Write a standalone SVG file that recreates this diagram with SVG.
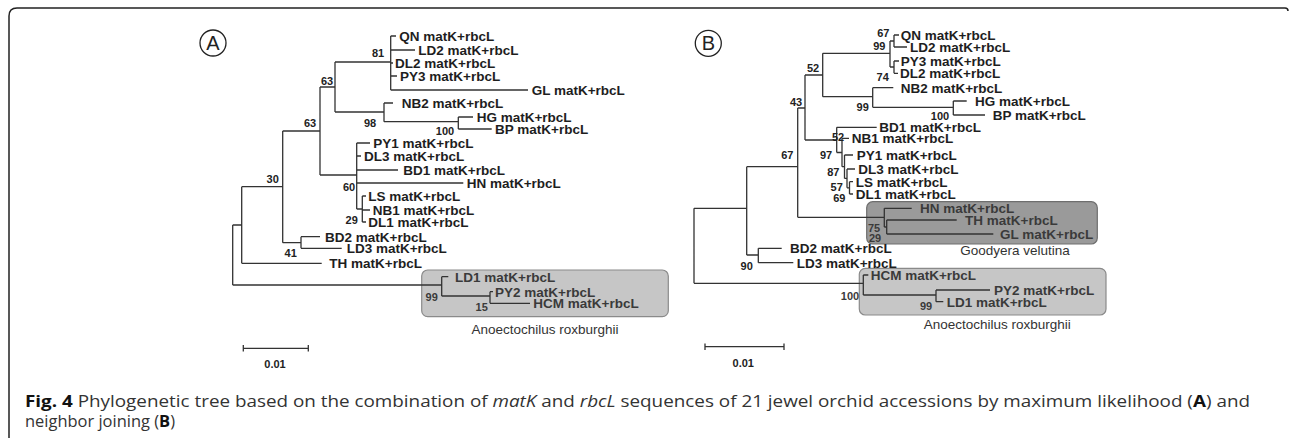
<svg xmlns="http://www.w3.org/2000/svg" width="1290" height="438" viewBox="0 0 1290 438">
<style>
.br{stroke:#333;stroke-width:1.3;fill:none}
.lb{font-family:"Liberation Sans",Arial,sans-serif;font-weight:bold;font-size:13.5px;fill:#1e1e1e}
.ib{fill:#3a3a3a}
.bs{font-family:"Liberation Sans",Arial,sans-serif;font-weight:bold;font-size:11px;fill:#222;text-anchor:middle}
.ibs{fill:#3a3a3a}
.sp{font-family:"Liberation Sans",Arial,sans-serif;font-size:13.5px;fill:#333;text-anchor:middle}
.cap{font-family:"Open Sans","Noto Sans",sans-serif;font-size:16.5px;fill:#333}
.boxL{fill:#c6c6c6;stroke:#8a8a8a;stroke-width:1.2}
.boxD{fill:#9a9a9a;stroke:#6e6e6e;stroke-width:1.2}
.circ{fill:none;stroke:#222;stroke-width:1.3}
.let{font-family:"Liberation Sans",Arial,sans-serif;font-size:20px;fill:#222;text-anchor:middle}
</style>
<path d="M9,438 V16 Q9,8 17,8 H1285 Q1288,8 1288,11" fill="none" stroke="#222" stroke-width="1.5"/>

<g id="panelA">
<circle class="circ" cx="213" cy="43" r="13"/>
<text class="let" x="213" y="50">A</text>
</g>
<g id="panelB">
<circle class="circ" cx="708.3" cy="43.3" r="13"/>
<text class="let" x="708.3" y="50.3">B</text>
</g>

<g id="groupboxes">
<rect id="boxA-anoectochilus" class="boxL" x="421.7" y="270" width="246.6" height="46.7" rx="6"/>
<rect id="boxB-goodyera" class="boxD" x="866.7" y="201.7" width="230.6" height="42.3" rx="6"/>
<rect id="boxB-anoectochilus" class="boxL" x="859.3" y="268.3" width="246.7" height="46.7" rx="6"/>
</g>

<g id="connectors">
<path class="br" d="M232.7,225 V285 M232.7,225 H241.7 M232.7,285 H441.7
M241.7,186.7 V263.3 M241.7,186.7 H282.7 M241.7,263.3 H321.7
M282.7,131 V242.7 M282.7,131 H320 M282.7,242.7 H301
M301,236.7 V248.3 M301,236.7 H320 M301,248.3 H341.7
M320,87 V175 M320,87 H335 M320,175 H356.7
M335,62 V112 M335,62 H390.7 M335,112 H384
M390.7,36 V90 M390.7,36 H396 M390.7,50 H415 M390.7,63 H393 M390.7,76 H397 M390.7,90 H528
M384,103 V121.7 M384,103 H393 M384,121.7 H458.3
M458.3,117 V129 M458.3,117 H473 M458.3,129 H491.7
M356.7,143 V209 M356.7,143 H370 M356.7,156 H361 M356.7,170 H398 M356.7,183 H463.3 M356.7,209 H362.3
M362.3,196 V222 M362.3,196 H366 M362.3,210 H370 M362.3,222 H366
M441.7,276.7 V296 M441.7,276.7 H448.3 M441.7,296 H490 M490,291.7 V303.3 M490,291.7 H493 M490,303.3 H530"/>
<path class="br" d="M694,208.3 V283.3 M694,208.3 H746.7 M694,283.3 H863.3
M746.7,166.7 V255 M746.7,166.7 H797.7 M746.7,255 H758.3
M758.3,248.3 V262.7 M758.3,248.3 H781.7 M758.3,262.7 H793.3
M797.7,108 V217.3 M797.7,108 H805 M797.7,217.3 H884.3
M805,75 V140 M805,75 H822.7 M805,140 H836.7
M822.7,53.3 V96.7 M822.7,53.3 H890 M822.7,96.7 H872.7
M890,41 V67 M890,41 H894 M890,67 H894
M894,35 V47 M894,35 H899 M894,47 H907
M894,61 V73.3 M894,61 H899 M894,73.3 H898
M872.7,87.7 V107.3 M872.7,87.7 H893.3 M872.7,107.3 H953.3
M953.3,101 V115 M953.3,101 H966.7 M953.3,115 H985
M836.7,127.3 V152.5 M836.7,127.3 H876.7 M836.7,152.5 H842
M842,138.3 V166.7 M842,138.3 H849 M842,166.7 H844.5
M844.5,155 V178.4 M844.5,155 H853 M844.5,178.4 H847
M847,169 V187.8 M847,169 H855 M847,187.8 H849.5
M849.5,181.7 V194 M849.5,181.7 H853 M849.5,194 H853
M884.3,208.3 V227 M884.3,208.3 H911.7 M884.3,227 H886.7
M886.7,220 V234 M886.7,220 H956.7 M886.7,234 H993.3
M863.3,275 V295 M863.3,275 H868.3 M863.3,295 H936
M936,290 V301.7 M936,290 H990 M936,301.7 H943.3"/>
<path class="br" d="M243.3,348.3 H308.3 M243.3,345 V351.6 M308.3,345 V351.6 M705,346.7 H784 M705,343.4 V350 M784,343.4 V350"/>
</g>

<g id="treeA-leaves">
<g id="A-QN"><text class="lb" x="399.3" y="40.8">QN matK+rbcL</text></g>
<g id="A-LD2"><text class="lb" x="418.3" y="54.8">LD2 matK+rbcL</text></g>
<g id="A-DL2"><text class="lb" x="395" y="67.8">DL2 matK+rbcL</text></g>
<g id="A-PY3"><text class="lb" x="400" y="80.8">PY3 matK+rbcL</text></g>
<g id="A-GL"><text class="lb" x="531.7" y="94.8">GL matK+rbcL</text></g>
<g id="A-NB2"><text class="lb" x="401.7" y="107.8">NB2 matK+rbcL</text></g>
<g id="A-HG"><text class="lb" x="476.7" y="121.8">HG matK+rbcL</text></g>
<g id="A-BP"><text class="lb" x="495" y="133.8">BP matK+rbcL</text></g>
<g id="A-PY1"><text class="lb" x="373.3" y="147.8">PY1 matK+rbcL</text></g>
<g id="A-DL3"><text class="lb" x="364" y="160.8">DL3 matK+rbcL</text></g>
<g id="A-BD1"><text class="lb" x="403.3" y="174.8">BD1 matK+rbcL</text></g>
<g id="A-HN"><text class="lb" x="466.7" y="187.8">HN matK+rbcL</text></g>
<g id="A-LS"><text class="lb" x="368.3" y="200.8">LS matK+rbcL</text></g>
<g id="A-NB1"><text class="lb" x="372.7" y="214.8">NB1 matK+rbcL</text></g>
<g id="A-DL1"><text class="lb" x="368.3" y="226.8">DL1 matK+rbcL</text></g>
<g id="A-BD2"><text class="lb" x="325" y="241.5">BD2 matK+rbcL</text></g>
<g id="A-LD3"><text class="lb" x="346.7" y="253.1">LD3 matK+rbcL</text></g>
<g id="A-TH"><text class="lb" x="329.3" y="268.1">TH matK+rbcL</text></g>
<g id="A-LD1"><text class="lb ib" x="455" y="281.5">LD1 matK+rbcL</text></g>
<g id="A-PY2"><text class="lb ib" x="495" y="296.5">PY2 matK+rbcL</text></g>
<g id="A-HCM"><text class="lb ib" x="533.3" y="308.1">HCM matK+rbcL</text></g>
</g>
<g id="treeA-support">
<text class="bs" x="378" y="57">81</text>
<text class="bs" x="327" y="85">63</text>
<text class="bs" x="310" y="127">63</text>
<text class="bs" x="370" y="126.7">98</text>
<text class="bs" x="445" y="135">100</text>
<text class="bs" x="349" y="191">60</text>
<text class="bs" x="351.7" y="224">29</text>
<text class="bs" x="272.7" y="183.3">30</text>
<text class="bs" x="290.7" y="256.7">41</text>
<text class="bs ibs" x="431.7" y="300.7">99</text>
<text class="bs ibs" x="481.7" y="311.3">15</text>
</g>
<g id="A-clade-name"><text class="sp" x="545" y="333.8">Anoectochilus roxburghii</text></g>
<g id="A-scale"><text class="bs" x="275" y="368">0.01</text></g>

<g id="treeB-leaves">
<g id="B-QN"><text class="lb" x="900.7" y="39.8">QN matK+rbcL</text></g>
<g id="B-LD2"><text class="lb" x="910" y="51.5">LD2 matK+rbcL</text></g>
<g id="B-PY3"><text class="lb" x="900.7" y="65.5">PY3 matK+rbcL</text></g>
<g id="B-DL2"><text class="lb" x="900" y="78.1">DL2 matK+rbcL</text></g>
<g id="B-NB2"><text class="lb" x="900.7" y="92.5">NB2 matK+rbcL</text></g>
<g id="B-HG"><text class="lb" x="975" y="105.8">HG matK+rbcL</text></g>
<g id="B-BP"><text class="lb" x="992.7" y="119.8">BP matK+rbcL</text></g>
<g id="B-BD1"><text class="lb" x="879.3" y="132.1">BD1 matK+rbcL</text></g>
<g id="B-NB1"><text class="lb" x="851.7" y="143.1">NB1 matK+rbcL</text></g>
<g id="B-PY1"><text class="lb" x="856.7" y="159.8">PY1 matK+rbcL</text></g>
<g id="B-DL3"><text class="lb" x="858.3" y="173.8">DL3 matK+rbcL</text></g>
<g id="B-LS"><text class="lb" x="855.7" y="186.5">LS matK+rbcL</text></g>
<g id="B-DL1"><text class="lb" x="855.7" y="198.8">DL1 matK+rbcL</text></g>
<g id="B-HN"><text class="lb ib" x="920" y="213.1">HN matK+rbcL</text></g>
<g id="B-TH"><text class="lb ib" x="965" y="224.8">TH matK+rbcL</text></g>
<g id="B-GL"><text class="lb ib" x="1000" y="238.8">GL matK+rbcL</text></g>
<g id="B-BD2"><text class="lb" x="790" y="253.1">BD2 matK+rbcL</text></g>
<g id="B-LD3"><text class="lb" x="796.7" y="267.5">LD3 matK+rbcL</text></g>
<g id="B-HCM"><text class="lb ib" x="870.7" y="279.8">HCM matK+rbcL</text></g>
<g id="B-PY2"><text class="lb ib" x="994" y="294.8">PY2 matK+rbcL</text></g>
<g id="B-LD1"><text class="lb ib" x="946.7" y="306.5">LD1 matK+rbcL</text></g>
</g>
<g id="treeB-support">
<text class="bs" x="883.3" y="36.7">67</text>
<text class="bs" x="879.3" y="50">99</text>
<text class="bs" x="882.7" y="80.7">74</text>
<text class="bs" x="813" y="71.7">52</text>
<text class="bs" x="862.7" y="111.3">99</text>
<text class="bs" x="940" y="120">100</text>
<text class="bs" x="796" y="105.5">43</text>
<text class="bs" x="838" y="141.3">52</text>
<text class="bs" x="826" y="159">97</text>
<text class="bs" x="833.3" y="176.3">87</text>
<text class="bs" x="836.7" y="191.3">57</text>
<text class="bs" x="839.3" y="202.3">69</text>
<text class="bs" x="787.3" y="159">67</text>
<text class="bs ibs" x="874" y="232">75</text>
<text class="bs ibs" x="875" y="241.5">29</text>
<text class="bs" x="746.7" y="270">90</text>
<text class="bs ibs" x="850" y="300">100</text>
<text class="bs ibs" x="926" y="310">99</text>
</g>
<g id="B-clade-goodyera"><text class="sp" x="1015" y="254.8">Goodyera velutina</text></g>
<g id="B-clade-anoectochilus"><text class="sp" x="997.3" y="328.8">Anoectochilus roxburghii</text></g>
<g id="B-scale"><text class="bs" x="743.3" y="367.3">0.01</text></g>

<g id="caption">
<text class="cap" x="25" y="407" textLength="1225" lengthAdjust="spacingAndGlyphs"><tspan font-weight="bold" fill="#111">Fig. 4</tspan> Phylogenetic tree based on the combination of <tspan font-style="italic">matK</tspan> and <tspan font-style="italic">rbcL</tspan> sequences of 21 jewel orchid accessions by maximum likelihood (<tspan font-weight="bold" fill="#111">A</tspan>) and</text>
<text class="cap" x="25" y="427" textLength="150" lengthAdjust="spacingAndGlyphs">neighbor joining (<tspan font-weight="bold" fill="#111">B</tspan>)</text>
</g>
</svg>
